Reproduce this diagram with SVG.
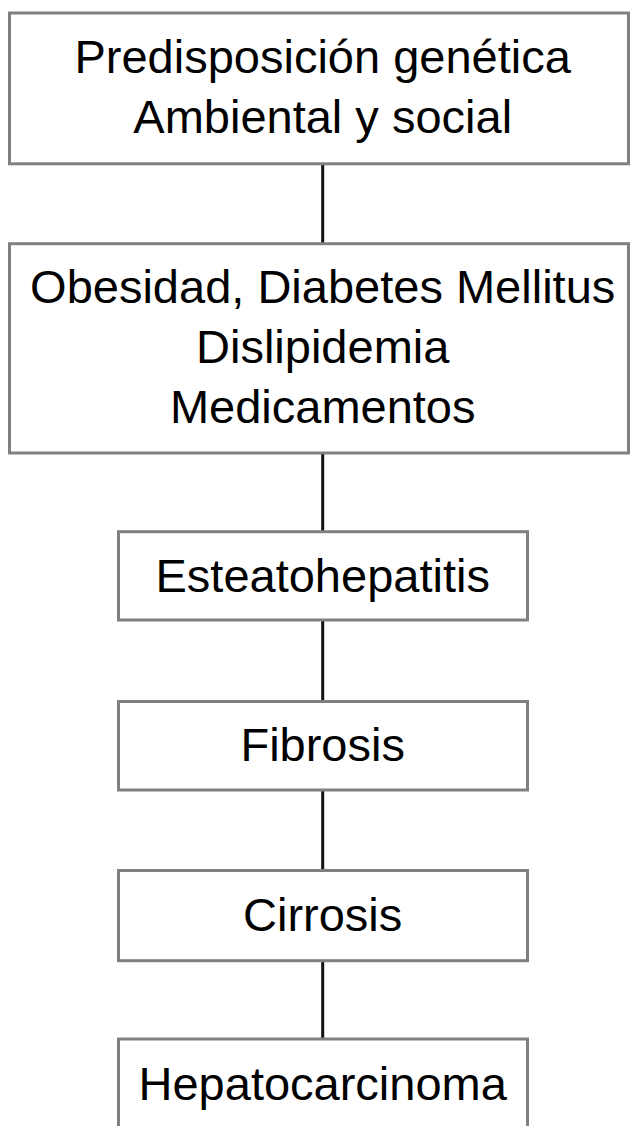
<svg xmlns="http://www.w3.org/2000/svg" width="635" height="1126" viewBox="0 0 635 1126">
<style>
.box{fill:#ffffff;stroke:#808080;stroke-width:3}
.lbl{font-family:"Liberation Sans",Arial,sans-serif;font-size:47px;fill:#000000;text-anchor:middle}
.conn{stroke:#111111;stroke-width:3;fill:none}
</style>
<rect width="635" height="1126" fill="#ffffff"/>
<g id="connectors">
<line class="conn" x1="322.7" y1="163.8" x2="322.7" y2="243.7"/>
<line class="conn" x1="322.7" y1="453" x2="322.7" y2="531.7"/>
<line class="conn" x1="322.7" y1="620" x2="322.7" y2="701.5"/>
<line class="conn" x1="322.7" y1="790" x2="322.7" y2="870.5"/>
<line class="conn" x1="322.7" y1="960.7" x2="322.7" y2="1039"/>
</g>
<g id="node-predisposicion">
<rect class="box" x="9.5" y="13" width="619" height="150.8"/>
<text class="lbl" x="322.7" y="73.3">Predisposición genética</text>
<text class="lbl" x="322.7" y="133.3">Ambiental y social</text>
</g>
<g id="node-obesidad">
<rect class="box" x="9.5" y="243.7" width="619" height="209.3"/>
<text class="lbl" x="322.7" y="303.3">Obesidad, Diabetes Mellitus</text>
<text class="lbl" x="322.7" y="363.3">Dislipidemia</text>
<text class="lbl" x="322.7" y="423.3">Medicamentos</text>
</g>
<g id="node-esteatohepatitis">
<rect class="box" x="118.5" y="531.7" width="409" height="88.3"/>
<text class="lbl" x="322.7" y="591.7">Esteatohepatitis</text>
</g>
<g id="node-fibrosis">
<rect class="box" x="118.5" y="701.5" width="409" height="88.5"/>
<text class="lbl" x="322.7" y="761">Fibrosis</text>
</g>
<g id="node-cirrosis">
<rect class="box" x="118.5" y="870.5" width="409" height="90.2"/>
<text class="lbl" x="322.7" y="930.5">Cirrosis</text>
</g>
<g id="node-hepatocarcinoma">
<rect class="box" x="118.5" y="1039" width="409" height="100"/>
<text class="lbl" x="322.7" y="1100">Hepatocarcinoma</text>
</g>
</svg>
